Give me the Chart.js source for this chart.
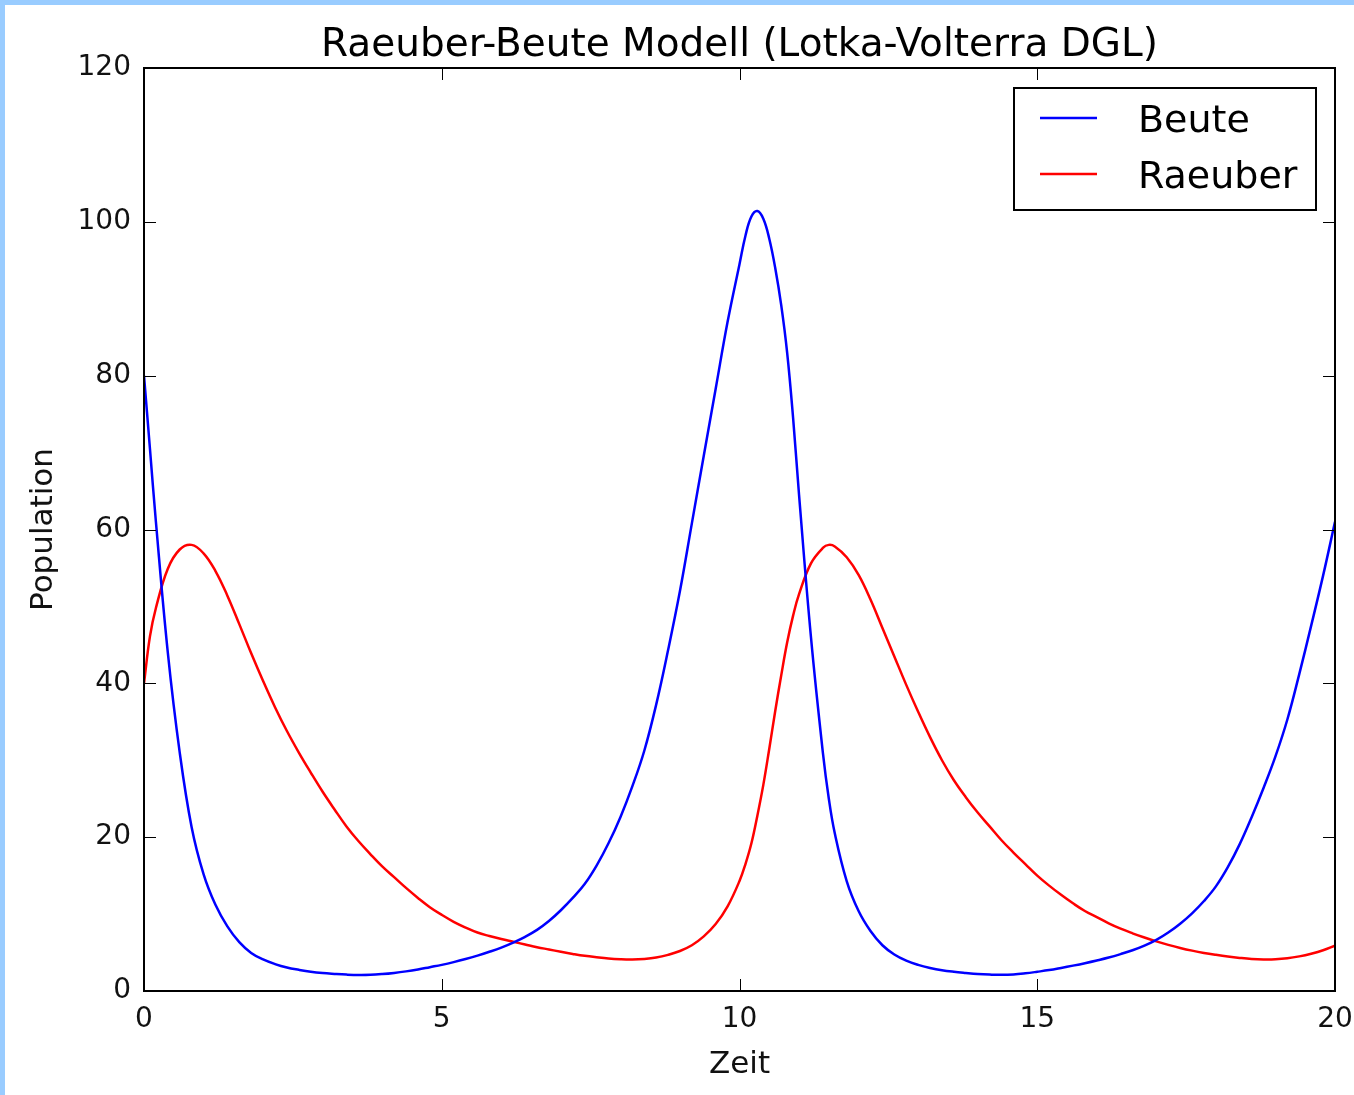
<!DOCTYPE html>
<html>
<head>
<meta charset="utf-8">
<script src="https://cdn.jsdelivr.net/npm/chart.js@4.4.1/dist/chart.umd.min.js"></script>
<style>
  html, body { margin: 0; padding: 0; background: #fff; overflow: hidden; }
  #wrap { position: relative; width: 1354px; height: 1095px; overflow: hidden; background: #fff; }
  canvas { position: absolute; left: 0; top: 0; }
  .bt { position: absolute; left: 0; top: 0; width: 1354px; height: 5px; background: #99ccff; }
  .bl { position: absolute; left: 0; top: 0; width: 5px; height: 1095px; background: #99ccff; }
</style>
</head>
<body>
<div id="wrap">
  <canvas id="c" width="1354" height="1095"></canvas>
  <div class="bt"></div>
  <div class="bl"></div>
</div>
<script>
// ---- data ----
const chartTitle = 'Raeuber-Beute Modell (Lotka-Volterra DGL)';
const xTitle = 'Zeit';
const yTitle = 'Population';
const seriesNames = ['Beute', 'Raeuber'];

const zeit = [
  0, 0.1, 0.2, 0.4, 0.6, 0.8, 1, 1.2, 1.4, 1.6, 1.8,
  2, 2.2, 2.4, 2.6, 2.8, 3, 3.2, 3.4, 3.6, 3.8,
  4, 4.2, 4.4, 4.6, 4.8, 5, 5.2, 5.4, 5.6, 5.8,
  6, 6.2, 6.4, 6.6, 6.8, 7, 7.2, 7.4, 7.6, 7.8,
  8, 8.2, 8.4, 8.6, 8.8, 9, 9.2, 9.4, 9.6, 9.8,
  10, 10.1, 10.2, 10.3, 10.4, 10.5, 10.6, 10.7, 10.8, 10.9,
  11, 11.2, 11.4, 11.5, 11.6, 11.8,
  12, 12.2, 12.4, 12.6, 12.8, 13, 13.2, 13.4, 13.6, 13.8,
  14, 14.2, 14.4, 14.6, 14.8, 15, 15.2, 15.4, 15.6, 15.8,
  16, 16.2, 16.4, 16.6, 16.8, 17, 17.2, 17.4, 17.6, 17.8,
  18, 18.2, 18.4, 18.6, 18.8, 19, 19.2, 19.4, 19.6, 19.8, 20
];

const beute = [
  80, 70.5, 61, 44, 31, 21.3, 15.2, 11.2, 8.4, 6.35, 4.95,
  4.1, 3.5, 3.05, 2.75, 2.5, 2.33, 2.22, 2.13, 2.08, 2.1,
  2.2, 2.35, 2.55, 2.8, 3.1, 3.4, 3.75, 4.15, 4.6, 5.1,
  5.65, 6.3, 7.05, 7.95, 9.1, 10.5, 12.1, 13.9, 16.3, 19.2,
  22.6, 26.6, 31.2, 37.2, 44.3, 52.0, 60.8, 69.6, 78.3, 87,
  94.5, 98.2, 100.7, 101.4, 100.4, 97.8, 94.0, 89.2, 83, 74.5,
  64.5, 46, 31, 25, 20.5, 14.3,
  10.4, 7.8, 5.95, 4.75, 3.95, 3.4, 3.0, 2.7, 2.5, 2.35,
  2.22, 2.14, 2.1, 2.15, 2.3, 2.5, 2.72, 3.0, 3.3, 3.62,
  3.97, 4.35, 4.8, 5.3, 5.9, 6.65, 7.6, 8.75, 10.1, 11.7,
  13.6, 16.1, 19.1, 22.6, 26.4, 30.5, 35.3, 41.2, 47.5, 54, 61
];

const raeuber = [
  40, 46.1, 49.8, 54.9, 57.4, 58.0, 56.9, 54.6, 51.4, 47.7, 43.9,
  40.3, 36.9, 33.8, 31.0, 28.4, 25.9, 23.6, 21.4, 19.5, 17.8,
  16.2, 14.8, 13.4, 12.1, 10.9, 9.9, 9.0, 8.25, 7.6, 7.15,
  6.75, 6.4, 6.05, 5.7, 5.4, 5.1, 4.82, 4.57, 4.38, 4.22,
  4.13, 4.1, 4.17, 4.35, 4.7, 5.2, 5.95, 7.1, 8.7, 11.0,
  14.3, 16.5, 19.2, 22.8, 26.8, 31.5, 36.4, 41.0, 45.3, 48.8,
  51.6, 55.6, 57.6, 58.0, 57.8, 56.4,
  54.1, 50.9, 47.2, 43.5, 39.8, 36.3, 33.0, 30.0, 27.4, 25.2,
  23.2, 21.4, 19.6, 18.0, 16.5, 15.0, 13.7, 12.5, 11.4, 10.4,
  9.6, 8.8, 8.1, 7.5, 6.95, 6.45, 6.0, 5.6, 5.25, 4.95,
  4.7, 4.48, 4.3, 4.16, 4.1, 4.12, 4.25, 4.5, 4.85, 5.3, 5.9
];

const xTicks = [0, 5, 10, 15, 20];
const yTicks = [0, 20, 40, 60, 80, 100, 120];
const seriesColors = ['#0000ff', '#ff0000'];

// ---- chart ----
const FONT = '"DejaVu Sans", "Liberation Sans", sans-serif';

function pts(vals) { return zeit.map((t, i) => ({ x: t, y: vals[i] })); }

const framePlugin = {
  id: 'framePlugin',
  afterDatasetsDraw(chart) {
    const { ctx, chartArea: ca, scales } = chart;
    const xs = scales.x, ys = scales.y;
    const TL = 12;
    ctx.save();
    ctx.strokeStyle = '#000';
    ctx.lineWidth = 1;
    ctx.beginPath();
    xs.ticks.forEach(t => {
      const px = Math.round(xs.getPixelForValue(t.value)) + 0.5;
      ctx.moveTo(px, ca.bottom); ctx.lineTo(px, ca.bottom - TL);
      ctx.moveTo(px, ca.top); ctx.lineTo(px, ca.top + TL);
    });
    ys.ticks.forEach(t => {
      const py = Math.round(ys.getPixelForValue(t.value)) + 0.5;
      ctx.moveTo(ca.left, py); ctx.lineTo(ca.left + TL, py);
      ctx.moveTo(ca.right, py); ctx.lineTo(ca.right - TL, py);
    });
    ctx.stroke();
    ctx.lineWidth = 2;
    ctx.strokeRect(ca.left, ca.top, ca.right - ca.left, ca.bottom - ca.top);

    // title, centred over the plot area
    ctx.fillStyle = '#000';
    ctx.font = '39px ' + FONT;
    ctx.textAlign = 'center';
    ctx.textBaseline = 'middle';
    ctx.fillText(chartTitle, (ca.left + ca.right) / 2, ca.top - 22);

    // legend (inside, upper right)
    const bx = ca.right - 321, by = ca.top + 20, bw = 302, bh = 122;
    ctx.fillStyle = '#fff';
    ctx.fillRect(bx, by, bw, bh);
    ctx.lineWidth = 2;
    ctx.strokeStyle = '#000';
    ctx.strokeRect(bx, by, bw, bh);
    ctx.font = '38px ' + FONT;
    ctx.textBaseline = 'middle';
    ctx.textAlign = 'left';
    chart.data.datasets.forEach((ds, i) => {
      const ly = by + 30 + i * 56;
      ctx.strokeStyle = ds.borderColor;
      ctx.lineWidth = 2.5;
      ctx.beginPath();
      ctx.moveTo(bx + 26, ly); ctx.lineTo(bx + 83, ly);
      ctx.stroke();
      ctx.fillStyle = '#000';
      ctx.fillText(ds.label, bx + 124, ly + 4);
    });
    ctx.restore();
  }
};

new Chart(document.getElementById('c'), {
  type: 'line',
  data: {
    datasets: [
      { label: seriesNames[0], data: pts(beute), borderColor: seriesColors[0], backgroundColor: seriesColors[0],
        borderWidth: 2.5, pointRadius: 0, fill: false, tension: 0.4 },
      { label: seriesNames[1], data: pts(raeuber), borderColor: seriesColors[1], backgroundColor: seriesColors[1],
        borderWidth: 2.5, pointRadius: 0, fill: false, tension: 0.4 }
    ]
  },
  options: {
    responsive: false,
    animation: false,
    devicePixelRatio: 1,
    layout: { padding: { left: 0, right: 19, top: 68, bottom: 0 } },
    plugins: {
      legend: { display: false },
      tooltip: { enabled: false },
      title: { display: false }
    },
    scales: {
      x: {
        type: 'linear', min: 0, max: 20,
        afterBuildTicks(s) { s.ticks = xTicks.map(v => ({ value: v })); },
        afterFit(s) { s.height = 104; s.paddingLeft = 0; s.paddingRight = 0; },
        grid: { display: false, drawTicks: false },
        border: { display: false },
        ticks: { color: '#111', padding: 12, maxRotation: 0, font: { family: FONT, size: 28 } },
        title: { display: true, text: xTitle, color: '#111', font: { family: FONT, size: 31 }, padding: { top: 0, bottom: 11 } }
      },
      y: {
        type: 'linear', min: 0, max: 120,
        afterBuildTicks(s) { s.ticks = yTicks.map(v => ({ value: v })); },
        afterFit(s) { s.width = 144; s.paddingTop = 0; s.paddingBottom = 0; },
        grid: { display: false, drawTicks: false },
        border: { display: false },
        ticks: { color: '#111', padding: 13, font: { family: FONT, size: 28 } },
        title: { display: true, text: yTitle, color: '#111', font: { family: FONT, size: 31 }, padding: { top: 25, bottom: 0 } }
      }
    }
  },
  plugins: [framePlugin]
});
</script>
</body>
</html>
